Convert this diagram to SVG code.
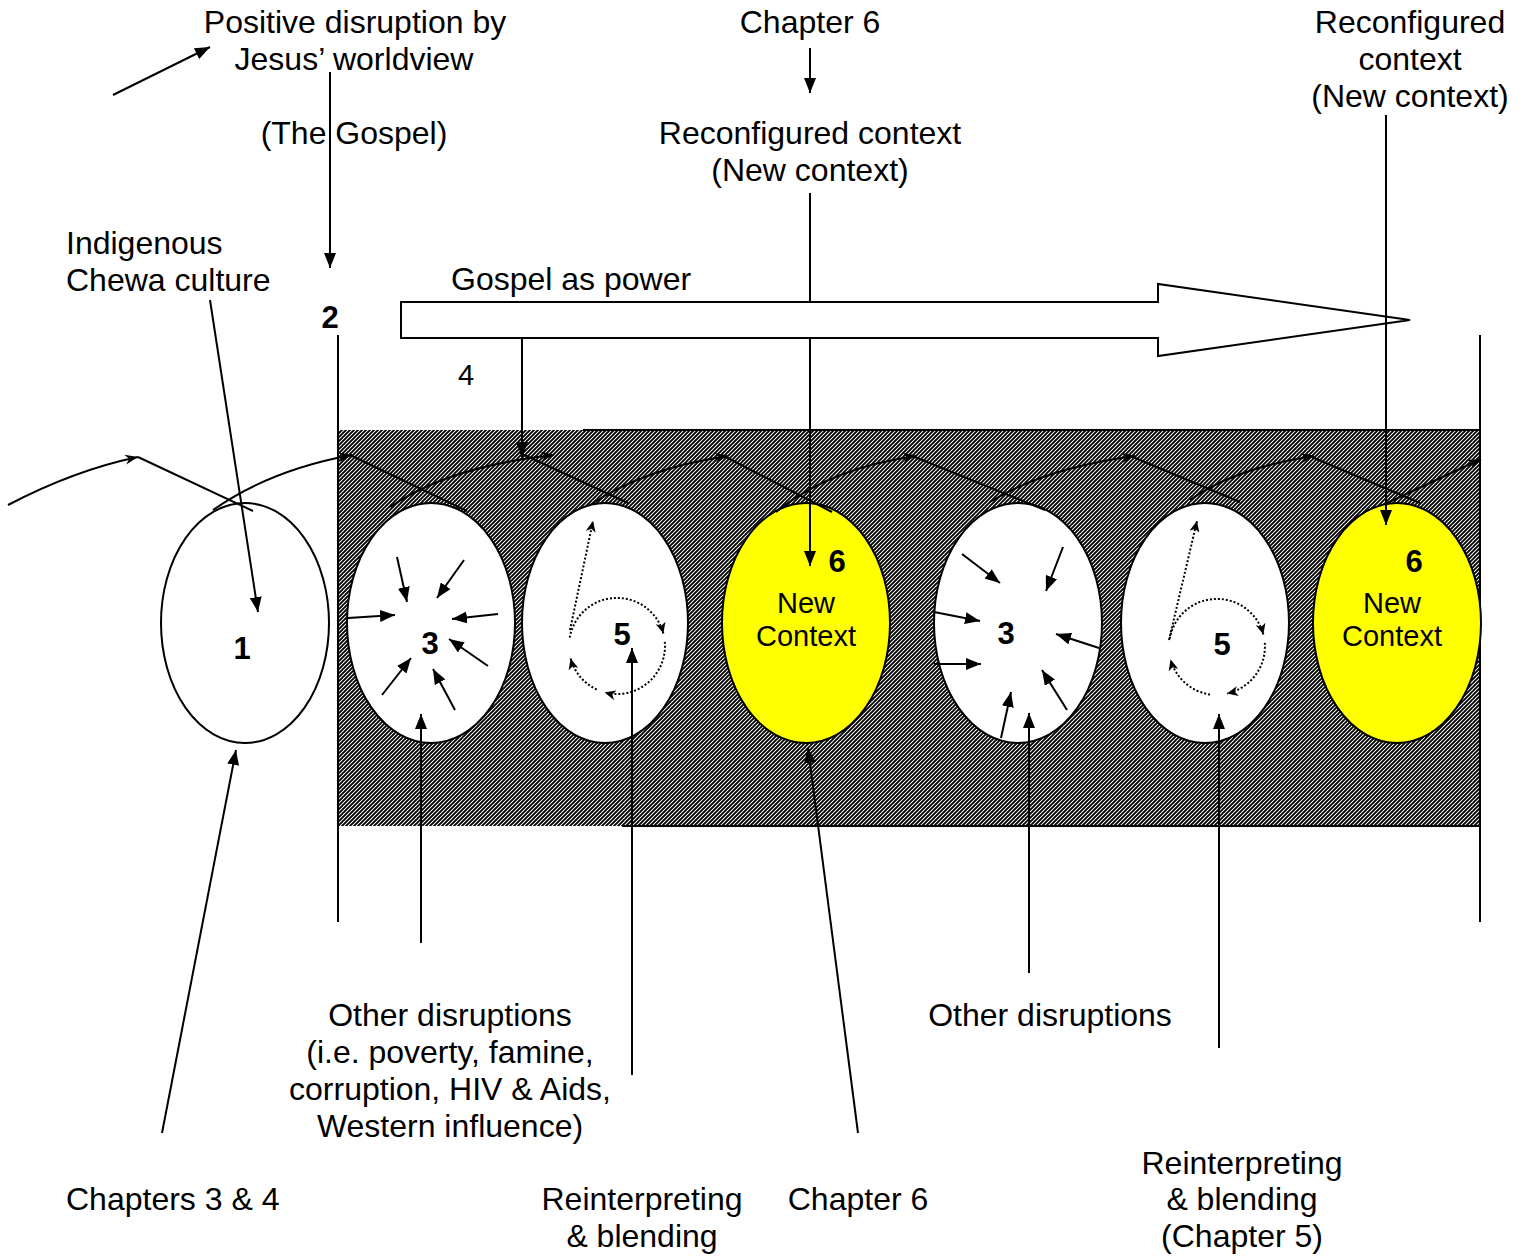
<svg xmlns="http://www.w3.org/2000/svg" width="1524" height="1256" viewBox="0 0 1524 1256">
<style>
.t{font-family:"Liberation Sans",Arial,sans-serif;font-size:32px;fill:#000}
.m{text-anchor:middle}
.b{font-family:"Liberation Sans",Arial,sans-serif;font-weight:bold;font-size:31px;fill:#000;text-anchor:middle}
.nc{font-family:"Liberation Sans",Arial,sans-serif;font-size:29px;fill:#000;text-anchor:middle}
.ln{stroke:#000;stroke-width:2;fill:none}
.ar{stroke:#000;stroke-width:2;fill:none;marker-end:url(#arr)}
.sa{stroke:#000;stroke-width:2;fill:none;marker-end:url(#sarr)}
.wv{stroke:#000;stroke-width:2;fill:none;marker-end:url(#open)}
.dt{stroke:#000;stroke-width:2;fill:none;stroke-dasharray:2 2;marker-end:url(#darr)}
.el{stroke:#000;stroke-width:2;fill:#fff}
.ye{stroke:#000;stroke-width:2;fill:#ffff00}
</style>
<defs>
<pattern id="hatch" width="4" height="4" patternUnits="userSpaceOnUse">
<rect width="4" height="4" fill="#fff"/>
<path d="M-1,1 L1,-1 M0,4 L4,0 M3,5 L5,3" stroke="#000" stroke-width="1.9"/>
</pattern>
<marker id="arr" markerUnits="userSpaceOnUse" markerWidth="16" markerHeight="12" refX="15" refY="6" orient="auto">
<path d="M0,0 L15,6 L0,12 z" fill="#000"/>
</marker>
<marker id="sarr" markerUnits="userSpaceOnUse" markerWidth="16" markerHeight="12" refX="15" refY="6" orient="auto">
<path d="M0,0 L15,6 L0,12 z" fill="#000"/>
</marker>
<marker id="darr" markerUnits="userSpaceOnUse" markerWidth="12" markerHeight="10" refX="11" refY="5" orient="auto">
<path d="M0,0 L11,5 L0,10 L3,5 z" fill="#000"/>
</marker>
<marker id="open" markerUnits="userSpaceOnUse" markerWidth="16" markerHeight="12" refX="14" refY="6" orient="auto">
<path d="M1,1 L14,6 L1,11 L5,6 z" fill="#000"/>
</marker>
</defs>

<g id="band">
<rect x="338" y="430" width="1142" height="396" fill="url(#hatch)"/>
<line x1="583" y1="430" x2="1481" y2="430" stroke="#000" stroke-width="2"/>
<line x1="622" y1="826" x2="1481" y2="826" stroke="#000" stroke-width="2"/>
<line x1="338" y1="335" x2="338" y2="922" stroke="#000" stroke-width="2"/>
<line x1="1480" y1="335" x2="1480" y2="922" stroke="#000" stroke-width="2"/>
</g>

<g id="node1"><ellipse class="el" cx="245" cy="623" rx="84" ry="120"/><text class="b" x="242" y="659">1</text></g>
<g id="node3a"><ellipse class="el" cx="431" cy="623" rx="84" ry="120"/><text class="b" x="430" y="654">3</text>
<path class="sa" d="M397,557 L407,602"/><path class="sa" d="M464,560 L437,598"/><path class="sa" d="M348,618 L395,615"/><path class="sa" d="M498,614 L452,619"/><path class="sa" d="M488,666 L449,639"/><path class="sa" d="M382,695 L411,658"/><path class="sa" d="M455,710 L433,669"/>
</g>
<g id="node5a"><ellipse class="el" cx="605" cy="623" rx="83" ry="120"/><text class="b" x="622" y="645">5</text>
<path class="dt" d="M570,630 L593,521"/>
<path class="dt" d="M569.7,637.7 A48,48 0 0 1 663.4,633.6"/>
<path class="dt" d="M664.8,641.8 A48,48 0 0 1 604.6,692.4"/>
<path class="dt" d="M596.7,689.5 A48,48 0 0 1 570.6,658.4"/>
</g>
<g id="node6a"><ellipse class="ye" cx="806" cy="623" rx="84" ry="120"/><text class="b" x="837" y="572">6</text><text class="nc" x="806" y="613">New</text><text class="nc" x="806" y="646">Context</text></g>
<g id="node3b"><ellipse class="el" cx="1018" cy="623" rx="84" ry="120"/><text class="b" x="1006" y="644">3</text>
<path class="sa" d="M962,554 L1000,583"/><path class="sa" d="M1063,547 L1046,591"/><path class="sa" d="M934,612 L980,621"/><path class="sa" d="M1099,648 L1056,634"/><path class="sa" d="M934,664 L981,664"/><path class="sa" d="M1067,710 L1042,670"/><path class="sa" d="M1001,738 L1011,692"/>
</g>
<g id="node5b"><ellipse class="el" cx="1205" cy="623" rx="84" ry="120"/><text class="b" x="1222" y="655">5</text>
<path class="dt" d="M1169,640 L1197,521"/>
<path class="dt" d="M1169.7,638.7 A48,48 0 0 1 1263.4,634.6"/>
<path class="dt" d="M1264.8,642.8 A48,48 0 0 1 1227,693.4"/>
<path class="dt" d="M1210,694.5 A48,48 0 0 1 1170.6,659.4"/>
</g>
<g id="node6b"><ellipse class="ye" cx="1397" cy="623" rx="84" ry="120"/><text class="b" x="1414" y="572">6</text><text class="nc" x="1392" y="613">New</text><text class="nc" x="1392" y="646">Context</text></g>

<g id="connectors">
<line class="ln" x1="810" y1="193" x2="810" y2="303"/>
<path class="ar" d="M810,337 L810,566"/>
<polygon points="401,302 1158,302 1158,284 1410,320 1158,356 1158,338 401,338" fill="#fff" stroke="#000" stroke-width="2"/>
<path class="ar" d="M113,95 L210,47"/>
<path class="ar" d="M330,72 L330,268"/>
<path class="ar" d="M810,48 L810,93"/>
<path class="ar" d="M522,338 L522,457"/>
<path class="ar" d="M1386,115 L1386,525"/>
<path class="ar" d="M210,300 L258,612"/>
<path class="ar" d="M162,1133 L236,750"/>
<path class="ar" d="M421,943 L421,714"/>
<path class="ar" d="M632,1075 L632,648"/>
<path class="ar" d="M858,1133 L808,748"/>
<path class="ar" d="M1029,973 L1029,713"/>
<path class="ar" d="M1219,1048 L1219,714"/>
<g id="waves">
<path class="wv" d="M8,505 Q75,470 138,457"/><path class="ln" d="M138,457 L253,511"/>
<path class="wv" d="M213,510 Q270,470 352,455"/><path class="ln" d="M350,455 L467,511"/>
<path class="wv" d="M390,507 Q450,466 554,455"/><path class="ln" d="M520,453 L628,503"/>
<path class="wv" d="M590,505 Q645,468 728,456"/><path class="ln" d="M722,455 L832,512"/>
<path class="wv" d="M776,512 Q830,468 916,456"/><path class="ln" d="M910,455 L1045,510"/>
<path class="wv" d="M990,502 Q1045,468 1135,456"/><path class="ln" d="M1128,455 L1240,502"/>
<path class="wv" d="M1190,500 Q1235,468 1314,456"/><path class="ln" d="M1307,455 L1420,503"/>
<path class="wv" d="M1387,503 L1481,459"/>
</g>
</g>

<g id="labels">
<text class="t m" x="355" y="33">Positive disruption by</text>
<text class="t m" x="354" y="70">Jesus’ worldview</text>
<text class="t m" x="354" y="144">(The Gospel)</text>
<text class="t m" x="810" y="33">Chapter 6</text>
<text class="t m" x="810" y="144">Reconfigured context</text>
<text class="t m" x="810" y="181">(New context)</text>
<text class="t m" x="1410" y="33">Reconfigured</text>
<text class="t m" x="1410" y="70">context</text>
<text class="t m" x="1410" y="107">(New context)</text>
<text class="t" x="66" y="254">Indigenous</text>
<text class="t" x="66" y="291">Chewa culture</text>
<text class="t" x="451" y="290">Gospel as power</text>
<text class="b" x="330" y="328">2</text>
<text class="nc" x="466" y="385">4</text>
<text class="t m" x="450" y="1026">Other disruptions</text>
<text class="t m" x="450" y="1063">(i.e. poverty, famine,</text>
<text class="t m" x="450" y="1100">corruption, HIV &amp; Aids,</text>
<text class="t m" x="450" y="1137">Western influence)</text>
<text class="t m" x="1050" y="1026">Other disruptions</text>
<text class="t" x="66" y="1210">Chapters 3 &amp; 4</text>
<text class="t m" x="642" y="1210">Reinterpreting</text>
<text class="t m" x="642" y="1247">&amp; blending</text>
<text class="t m" x="858" y="1210">Chapter 6</text>
<text class="t m" x="1242" y="1174">Reinterpreting</text>
<text class="t m" x="1242" y="1210">&amp; blending</text>
<text class="t m" x="1242" y="1247">(Chapter 5)</text>
</g>
</svg>
